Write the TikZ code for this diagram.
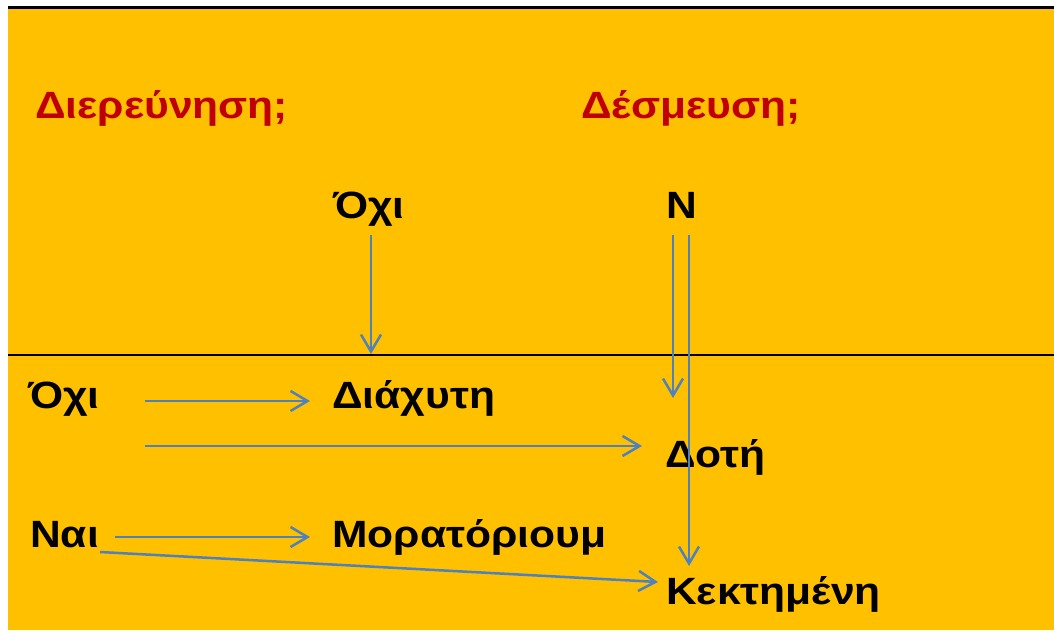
\documentclass[tikz,border=0pt]{standalone}
\usepackage{fontspec}
\setmainfont{Liberation Sans}[FakeStretch=1.12]
\usetikzlibrary{arrows.meta,calc}
\definecolor{gold}{HTML}{FFC000}
\definecolor{darkred}{HTML}{C00000}
\definecolor{lineblue}{HTML}{4F81BD}

\begin{document}
\begin{tikzpicture}[x=1pt, y=-1pt,
        word/.style = {anchor=base west, inner sep=0pt, font=\fontsize{38}{42}\selectfont\bfseries},
        title/.style = {word, text=darkred},
        arr/.style = {draw=lineblue, line width=2.5pt, -{Straight Barb[length=17pt, width=20pt, line width=2.5pt]}},
        rule/.style = {draw=black, line width=2.5pt} ]
        \useasboundingbox (0,0) rectangle (1054,630);
        \fill[white] (0,0) rectangle (1054,630);
        \fill[gold] (8,8) rectangle (1054,630);

        % rules
        \coordinate (top) at (8,7.5);
        \coordinate (mid) at (8,355);
        \draw[rule] (top) -- ++(1046,0);
        \draw[rule] (mid) -- ++(1046,0);

        % titles
        \node[title] (dier) at (35,118) {Διερεύνηση;};
        \node[title] (desm) at (581,118) {Δέσμευση;};

        % words
        \node[word] (oxiT) at (333,218) {Όχι};
        \node[word] (n) at (666,218) {N};
        \node[word] (oxiL) at (28,408) {Όχι};
        \node[word] (diax) at (332,408) {Διάχυτη};
        \node[word] (doti) at (665,467) {Δοτή};
        \node[word] (nai) at (30,547) {Ναι};
        \node[word] (mor) at (332,547) {Μορατόριουμ};
        \node[word] (kekt) at (666,604) {Κεκτημένη};

        % arrows
        \draw[arr] ($(oxiT.base west)+(38,17)$) -- ($(oxiT.base west)+(38,136)$);
        \draw[arr] ($(n.base west)+(7,17)$) -- ($(doti.base west)+(8,-69)$);
        \draw[arr] ($(n.base west)+(23,17)$) -- ($(kekt.base west)+(23,-38)$);
        \draw[arr] ($(oxiL.base west)+(117,-7)$) -- ($(diax.base west)+(-22,-7)$);
        \draw[arr] ($(oxiL.base west)+(117,38)$) -- ($(doti.base west)+(-23,-21)$);
        \draw[arr] ($(nai.base west)+(85,-10)$) -- ($(mor.base west)+(-22,-10)$);
        \draw[arr] ($(nai.base west)+(70,5)$) -- ($(kekt.base west)+(-8,-22)$);
\end{tikzpicture}
\end{document}
